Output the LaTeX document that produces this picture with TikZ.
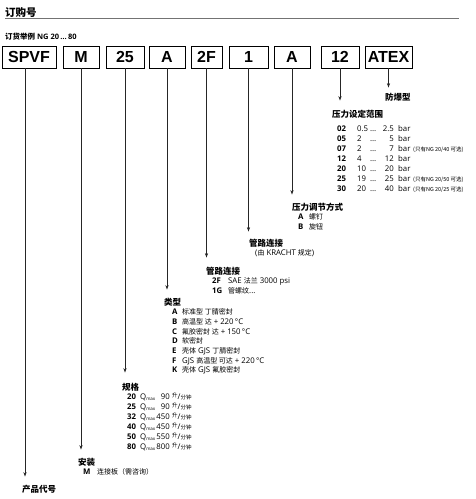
\documentclass[tikz,border=0pt]{standalone}
\usepackage{fontspec}
\setmainfont{Open Sans}
\newfontfamily\zhfont{Noto Sans CJK SC}
\newfontfamily\boxfont{Liberation Sans}
\usetikzlibrary{arrows.meta}

\newcommand{\zh}[1]{{\zhfont\fontsize{7}{8}\selectfont #1}}
\newcommand{\zhnote}[1]{{\zhfont\fontsize{5.5}{6}\selectfont #1}}
\newcommand{\lpm}{\raisebox{2pt}{\zhnote{升}}/\zhnote{分钟}}
\newcommand{\qmax}{Q\raisebox{-1pt}{\fontsize{4.5}{5}\selectfont max}}

\tikzset{
  codebox/.style={draw, thick, minimum height=22pt, inner sep=0pt,
    font=\boxfont\bfseries\fontsize{16}{16}\selectfont},
  lead/.style={line width=0.6pt, black!85},
  leadarrow/.style={lead, -{Stealth[length=4.5pt,width=3.2pt]}, shorten >=#1},
  leadarrow/.default=8pt,
  heading/.style={anchor=west, inner sep=0pt, text height=7.5pt, text depth=1pt,
    font=\zhfont\bfseries\fontsize{8.5}{9}\selectfont},
  cell/.style={anchor=west, inner sep=0pt, text height=5.5pt, text depth=0pt,
    font=\fontsize{7.8}{8}\selectfont},
  cellr/.style={cell, anchor=east},
  code/.style={cell, font=\bfseries\fontsize{7.8}{8}\selectfont},
}

\begin{document}
\begin{tikzpicture}[x=1pt, y=-1pt]
    \useasboundingbox (0,0) rectangle (476,499);

    % Title and rule
    \node[anchor=west, inner sep=0pt, font=\zhfont\bfseries\fontsize{10.5}{11}\selectfont] (title) at (5,12) {订购号};
    \draw[black!55, line width=1pt] (5,18) -- (459,18);
    \node[anchor=west, inner sep=0pt, font=\bfseries\fontsize{7.5}{8}\selectfont] (example) at (5,37)
        {{\zhfont 订货举例}\ NG 20\,…\,80};

    % Order code boxes
    \node[codebox, minimum width=54pt] (spvf)  at (29,57)    {SPVF};
    \node[codebox, minimum width=36pt] (mount) at (81,57)    {M};
    \node[codebox, minimum width=38pt] (size)  at (125,57)   {25};
    \node[codebox, minimum width=36pt] (type)  at (167,57)   {A};
    \node[codebox, minimum width=31pt] (port)  at (206.5,57) {2F};
    \node[codebox, minimum width=39pt] (conn)  at (248.5,57) {1};
    \node[codebox, minimum width=36pt] (adj)   at (292,57)   {A};
    \node[codebox, minimum width=38pt] (press) at (340,57)   {12};
    \node[codebox, minimum width=47pt] (atex)  at (388.5,57) {ATEX};

    % Explosion proof
    \node[heading] (lexp) at (385,97) {防爆型};
    \draw[leadarrow=5pt] (atex.south) -- (atex.south |- lexp.north);

    % Pressure range
    \node[heading] (lpress) at (332,114) {压力设定范围};
    \draw[leadarrow=9pt] (press.south) -- (press.south |- lpress.north);
    \foreach \y/\c/\lo/\hi/\note in {129/02/0.5/2.5/{}, 139/05/2/5/{}, 149/07/2/7/{(只有NG 20/40 可选)},
                                    159/12/4/12/{}, 169/20/10/20/{}, 179/25/19/25/{(只有NG 20/50 可选)},
                                    189/30/20/40/{(只有NG 20/25 可选)}} {
        \node[code] at (337,\y) {\c};
        \node[cell] at (357,\y) {\lo};
        \node[cell] at (370,\y) {…};
        \node[cellr] at (394,\y) {\hi};
        \node[cell] at (398,\y) {bar};
        \node[cell] at (413,\y) {\zhnote{\note}};
    }

    % Pressure adjustment
    \node[heading] (ladj) at (292,207) {压力调节方式};
    \draw[leadarrow=8pt] (adj.south) -- (adj.south |- ladj.north);
    \foreach \y/\c/\t in {217/A/螺钉, 227/B/旋钮} {
        \node[code] at (298,\y) {\c};
        \node[cell] at (309,\y) {\zh{\t}};
    }

    % Connection (KRACHT)
    \node[heading] (lconn) at (249,243) {管路连接};
    \draw[leadarrow=7pt] (conn.south) -- (conn.south |- lconn.north);
    \node[cell] at (255,253) {(\zh{由} KRACHT \zh{规定})};

    % Port connection
    \node[heading] (lport) at (206,271) {管路连接};
    \draw[leadarrow=9pt] (port.south) -- (port.south |- lport.north);
    \foreach \y/\c/\t in {281/2F/{SAE \zh{法兰} 3000 psi}, 291/1G/{\zh{管螺纹}...}} {
        \node[code] at (212,\y) {\c};
        \node[cell] at (228,\y) {\t};
    }

    % Type
    \node[heading] (ltype) at (164,302) {类型};
    \draw[leadarrow=8pt] (type.south) -- (type.south |- ltype.north);
    \foreach \y/\c/\t in {312/A/{\zh{标准型 丁腈密封}},
                          322/B/{\zh{高温型 达} + 220\,°C},
                          331.5/C/{\zh{氟胶密封 达} + 150\,°C},
                          341/D/{\zh{软密封}},
                          351/E/{\zh{壳体} GJS \zh{丁腈密封}},
                          360.5/F/{GJS \zh{高温型 可达} + 220\,°C},
                          370/K/{\zh{壳体} GJS \zh{氟胶密封}}} {
        \node[code] at (172,\y) {\c};
        \node[cell] at (182,\y) {\t};
    }

    % Size
    \node[heading] (lsize) at (122,387) {规格};
    \draw[leadarrow=10pt] (size.south) -- (size.south |- lsize.north);
    \foreach \y/\c/\q in {397/20/90, 407/25/90, 417/32/450, 427/40/450, 437/50/550, 446.5/80/800} {
        \node[code] at (127,\y) {\c};
        \node[cell] at (140,\y) {\qmax};
        \node[cellr] at (170,\y) {\q};
        \node[cell] at (172,\y) {\lpm};
    }

    % Mounting
    \node[heading] (lmount) at (78,462) {安装};
    \draw[leadarrow=8pt] (mount.south) -- (mount.south |- lmount.north);
    \node[code] at (83,472) {M};
    \node[cell] at (97,472) {\zh{连接板（需咨询）}};

    % Product code
    \node[heading] (lprod) at (22,489) {产品代号};
    \draw[leadarrow=8pt] ([xshift=-4pt]spvf.south) -- ([xshift=-4pt]spvf.south |- lprod.north);
\end{tikzpicture}
\end{document}
